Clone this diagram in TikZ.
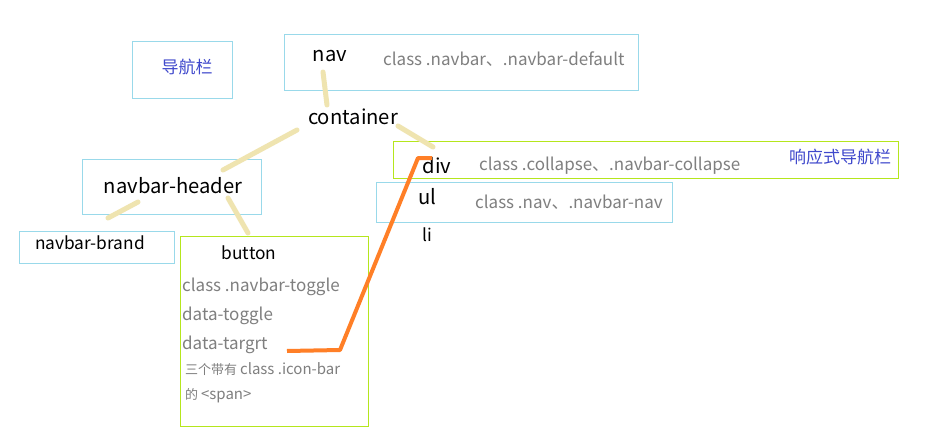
\documentclass[tikz,border=0pt]{standalone}
\usepackage{fontspec}
\setmainfont{Noto Sans CJK SC}
\definecolor{boxblue}{HTML}{99D9EA}
\definecolor{boxgreen}{HTML}{B5E61D}
\definecolor{linkbeige}{HTML}{EFE4B0}
\definecolor{markorange}{HTML}{FF7F27}
\definecolor{attrgray}{HTML}{7F7F7F}
\definecolor{noteblue}{HTML}{3F48CC}
\newcommand{\latinsmall}{\fontsize{15}{16}\selectfont}
\tikzset{
  box/.style={draw, line width=1pt, outer sep=0pt, inner sep=0pt, anchor=north west},
  bluebox/.style={box, draw=boxblue},
  greenbox/.style={box, draw=boxgreen},
  tag/.style={inner sep=0pt, font=\fontsize{20.2}{22}\selectfont},
  subtag/.style={inner sep=0pt, font=\fontsize{17.3}{19}\selectfont},
  attr/.style={inner sep=0pt, anchor=west, text=attrgray, font=\fontsize{17}{19}\selectfont},
  smallattr/.style={attr, font=\fontsize{13}{16}\selectfont},
  note/.style={inner sep=0pt, text=noteblue, font=\fontsize{17}{20}\selectfont},
  link/.style={draw=linkbeige, line width=5pt, line cap=round},
  pointer/.style={draw=markorange, line width=4pt, line join=round}
}
\begin{document}
\begin{tikzpicture}[x=1pt, y=-1pt]
  \fill[white] (0,0) rectangle (931,444);
  \useasboundingbox (0,0) rectangle (931,444);
  % boxes
  \node[bluebox, minimum width=100pt, minimum height=56pt] (titlebox) at (132,42) {};
  \node[bluebox, minimum width=354pt, minimum height=55pt] (navbox) at (284,35) {};
  \node[bluebox, minimum width=179pt, minimum height=55pt] (headerbox) at (82,159) {};
  \node[bluebox, minimum width=155pt, minimum height=32pt] (brandbox) at (19,231) {};
  \node[greenbox, minimum width=188pt, minimum height=190pt] (buttonbox) at (180,236) {};
  \node[greenbox, minimum width=505pt, minimum height=37pt] (divbox) at (393,141) {};
  \node[bluebox, minimum width=296pt, minimum height=40pt] (ulbox) at (376,182) {};
  % texts
  \node[note] (title) at (187,67) {导航栏};
  \node[tag] (nav) at (330,56) {nav};
  \node[attr] (navattr) at (383,59) {class .navbar、.navbar-default};
  \node[tag] (container) at (353,117) {container};
  \node[tag] (header) at (173,186) {navbar-header};
  \node[subtag] (brand) at (90,243) {navbar-brand};
  \node[subtag] (button) at (249,253) {button};
  \node[attr] (toggleclass) at (182,287) {class .navbar-toggle};
  \node[attr] (datatoggle) at (182,316) {data-toggle};
  \node[attr] (datatarget) at (182,345) {data-targrt};
  \node[smallattr] (iconbar) at (185,369) {三个带有 {\latinsmall class .icon-bar}};
  \node[smallattr] (span) at (185,396) {的 {\latinsmall <span>}};
  \node[tag] (div) at (437,166) {div};
  \node[attr] (divattr) at (479,166) {class .collapse、.navbar-collapse};
  \node[note, anchor=west] (collapse) at (789,157) {响应式导航栏};
  \node[tag] (ul) at (427,197) {ul};
  \node[attr] (ulattr) at (475,202) {class .nav、.navbar-nav};
  \node[subtag] (li) at (427,235) {li};
  % connectors
  \coordinate (navend) at (323,72);
  \coordinate (conttop) at (327,105);
  \coordinate (contleft) at (297,130);
  \coordinate (headtop) at (223,170);
  \coordinate (contright) at (398,126);
  \coordinate (divtop) at (433,147);
  \coordinate (headleft) at (138,202);
  \coordinate (brandtop) at (108,218);
  \coordinate (headright) at (228,198);
  \coordinate (buttontop) at (248,233);
  \draw[link] (navend) -- (conttop);
  \draw[link] (contleft) -- (headtop);
  \draw[link] (contright) -- (divtop);
  \draw[link] (headleft) -- (brandtop);
  \draw[link] (headright) -- (buttontop);
  \coordinate (targetend) at (287,351);
  \coordinate (targetbend) at (340,350);
  \coordinate (divbend) at (418,158);
  \coordinate (divend) at (432,158);
  \draw[pointer] (targetend) -- (targetbend) -- (divbend) -- (divend);
\end{tikzpicture}
\end{document}
